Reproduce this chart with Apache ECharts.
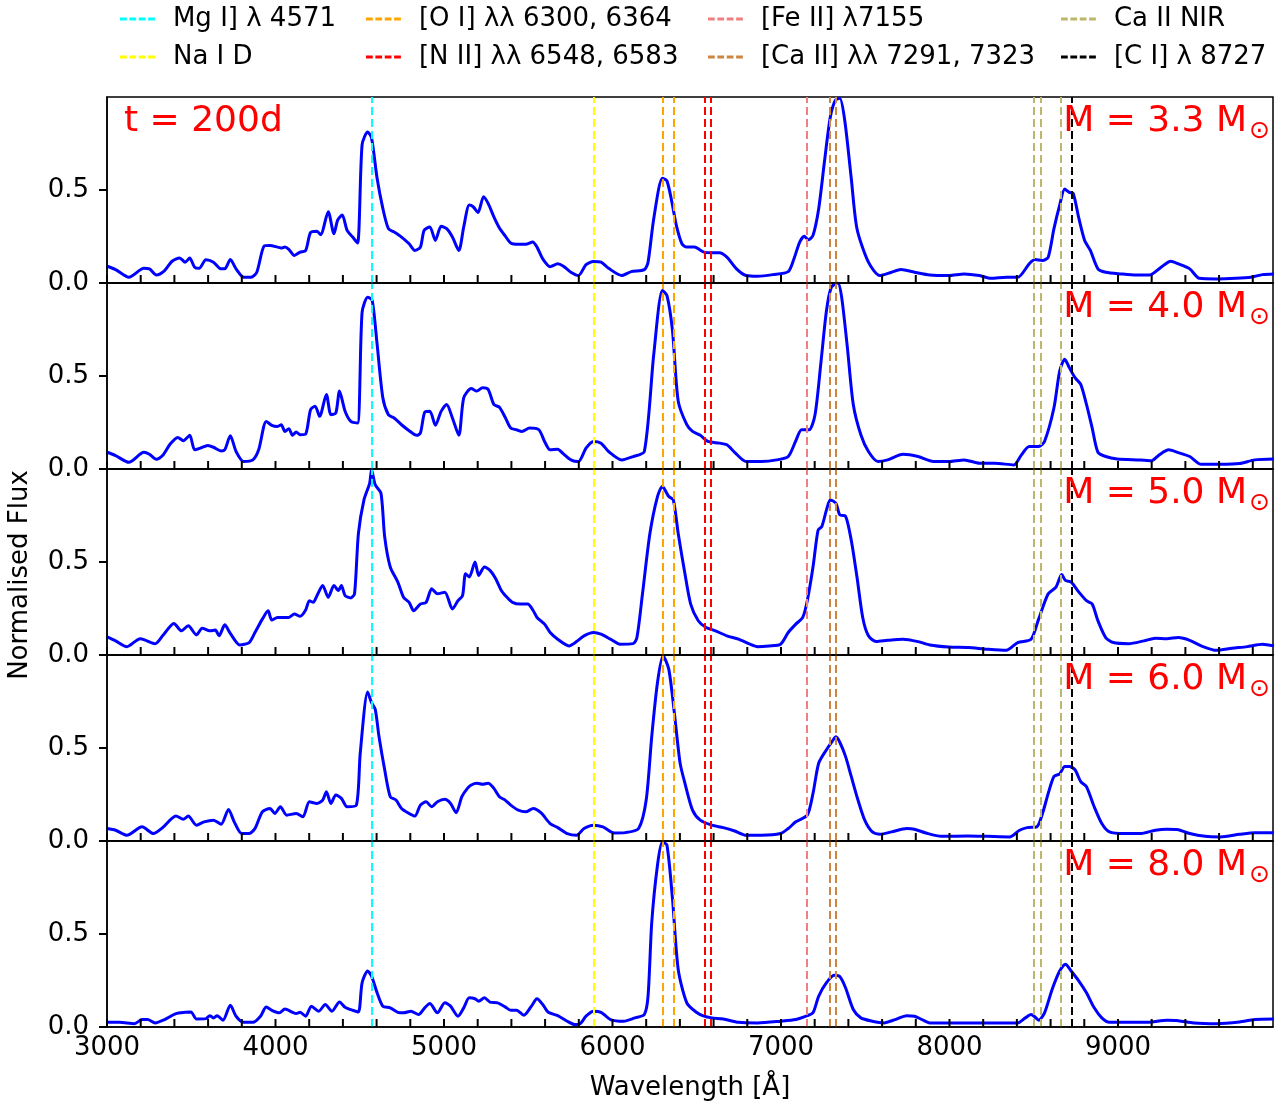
<!DOCTYPE html>
<html><head><meta charset="utf-8">
<script src="https://cdn.jsdelivr.net/npm/echarts@6/dist/echarts.min.js"></script>
<style>html,body{margin:0;padding:0;background:#fff}#c{width:1288px;height:1106px}</style>
</head><body><div id="c"></div>
<script>
// ---------------- DATA ----------------
const epochLabel = 't = 200d';
const massLabels = ['3.3', '4.0', '5.0', '6.0', '8.0'];
const xLabelValues = [3000, 4000, 5000, 6000, 7000, 8000, 9000];
const xTickValues = [3000,3200,3400,3600,3800,4000,4200,4400,4600,4800,5000,5200,5400,5600,5800,6000,6200,6400,6600,6800,7000,7200,7400,7600,7800,8000,8200,8400,8600,8800,9000,9200,9400,9600,9800];
const yLabelValues = [0, 0.5];

const spec_m33 = [[3000,.090],[3051,.072],[3130,.031],[3219,.079],[3252,.076],[3293,.043],[3342,.067],[3386,.117],[3431,.135],[3464,.112],[3491,.134],[3520,.085],[3547,.079],[3587,.125],[3632,.112],[3677,.076],[3699,.076],[3732,.126],[3766,.076],[3811,.031],[3855,.031],[3889,.058],[3933,.199],[3967,.202],[4012,.193],[4034,.188],[4056,.193],[4079,.181],[4112,.148],[4146,.166],[4179,.175],[4208,.271],[4246,.278],[4268,.260],[4313,.383],[4347,.265],[4369,.338],[4396,.365],[4425,.283],[4458,.247],[4487,.215],[4514,.744],[4547,.812],[4570,.780],[4603,.563],[4637,.401],[4670,.292],[4704,.274],[4748,.247],[4793,.211],[4827,.175],[4860,.193],[4882,.283],[4916,.301],[4949,.229],[4983,.305],[5016,.292],[5050,.247],[5088,.175],[5117,.301],[5150,.419],[5173,.410],[5202,.379],[5235,.464],[5262,.428],[5296,.356],[5329,.296],[5363,.253],[5396,.215],[5441,.208],[5485,.208],[5526,.220],[5552,.193],[5586,.130],[5630,.088],[5675,.103],[5709,.090],[5753,.058],[5798,.040],[5843,.099],[5887,.116],[5932,.112],[5977,.079],[6055,.040],[6111,.061],[6189,.072],[6211,.112],[6245,.347],[6296,.563],[6323,.549],[6352,.437],[6379,.310],[6412,.211],[6441,.193],[6486,.193],[6543,.166],[6589,.162],[6634,.162],[6679,.139],[6736,.076],[6793,.040],[6861,.036],[6952,.045],[7043,.061],[7077,.130],[7111,.220],[7138,.251],[7163,.233],[7190,.256],[7224,.401],[7258,.653],[7292,.888],[7322,.982],[7349,.993],[7379,.870],[7417,.563],[7451,.292],[7519,.112],[7587,.040],[7656,.058],[7712,.072],[7792,.058],[7883,.043],[7996,.040],[8087,.049],[8178,.040],[8246,.025],[8337,.031],[8405,.031],[8473,.103],[8507,.126],[8552,.121],[8586,.139],[8620,.292],[8654,.419],[8684,.505],[8711,.487],[8734,.482],[8768,.347],[8802,.229],[8836,.175],[8881,.076],[8927,.058],[9018,.049],[9108,.043],[9188,.043],[9256,.085],[9313,.117],[9358,.103],[9426,.076],[9483,.025],[9585,.022],[9698,.025],[9789,.031],[9857,.045],[9926,.049]];

const spec_m40 = [[3000,.090],[3051,.072],[3130,.036],[3219,.090],[3252,.079],[3293,.052],[3330,.072],[3375,.134],[3420,.170],[3453,.152],[3491,.181],[3520,.103],[3554,.112],[3598,.126],[3632,.117],[3677,.097],[3699,.103],[3732,.179],[3766,.094],[3811,.040],[3866,.049],[3900,.103],[3945,.256],[3978,.235],[4012,.229],[4034,.238],[4056,.202],[4079,.217],[4101,.181],[4123,.199],[4146,.184],[4179,.188],[4208,.319],[4235,.338],[4262,.283],[4302,.401],[4329,.292],[4358,.301],[4380,.419],[4413,.310],[4447,.256],[4487,.247],[4514,.843],[4547,.924],[4574,.906],[4603,.671],[4637,.383],[4670,.292],[4704,.274],[4748,.238],[4793,.206],[4838,.181],[4860,.193],[4887,.307],[4916,.310],[4949,.235],[4983,.310],[5016,.347],[5050,.274],[5088,.181],[5117,.383],[5162,.433],[5195,.419],[5229,.437],[5262,.428],[5296,.347],[5329,.332],[5363,.278],[5396,.220],[5430,.211],[5463,.202],[5508,.220],[5563,.211],[5597,.148],[5630,.103],[5675,.106],[5709,.081],[5753,.049],[5798,.040],[5843,.112],[5887,.148],[5932,.139],[5977,.094],[6055,.049],[6122,.067],[6189,.094],[6245,.617],[6296,.960],[6323,.933],[6356,.744],[6390,.365],[6441,.238],[6475,.202],[6521,.181],[6566,.148],[6634,.139],[6679,.130],[6725,.090],[6793,.040],[6884,.040],[6975,.049],[7043,.067],[7088,.152],[7122,.211],[7167,.211],[7202,.292],[7236,.563],[7270,.852],[7299,.978],[7338,1.0],[7360,.924],[7394,.653],[7429,.347],[7474,.184],[7519,.094],[7576,.040],[7633,.049],[7724,.079],[7814,.067],[7905,.040],[7996,.040],[8087,.049],[8178,.031],[8268,.031],[8382,.022],[8427,.076],[8473,.121],[8529,.121],[8564,.148],[8620,.329],[8654,.527],[8684,.590],[8711,.545],[8745,.491],[8779,.455],[8813,.347],[8847,.220],[8881,.090],[8927,.067],[8995,.054],[9131,.049],[9199,.045],[9245,.076],[9301,.103],[9358,.088],[9426,.067],[9494,.025],[9608,.025],[9721,.029],[9812,.049],[9926,.054]];

const spec_m50 = [[3000,.097],[3051,.076],[3118,.045],[3197,.088],[3230,.079],[3286,.061],[3330,.103],[3397,.170],[3442,.130],[3482,.157],[3531,.108],[3565,.144],[3610,.130],[3643,.134],[3665,.103],[3699,.162],[3732,.116],[3788,.054],[3844,.067],[3878,.121],[3922,.193],[3956,.238],[3978,.188],[4012,.202],[4079,.202],[4112,.220],[4146,.208],[4179,.242],[4201,.292],[4224,.283],[4246,.319],[4280,.374],[4313,.310],[4347,.374],[4373,.347],[4391,.374],[4413,.319],[4447,.307],[4469,.329],[4492,.653],[4525,.834],[4559,.924],[4570,.996],[4592,.915],[4626,.870],[4648,.635],[4681,.473],[4726,.392],[4760,.310],[4793,.283],[4820,.238],[4860,.274],[4894,.283],[4927,.356],[4961,.329],[5005,.338],[5050,.247],[5083,.292],[5110,.319],[5128,.437],[5150,.419],[5184,.500],[5206,.428],[5240,.473],[5273,.455],[5307,.410],[5340,.347],[5374,.310],[5407,.283],[5452,.274],[5497,.274],[5530,.238],[5552,.202],[5597,.166],[5630,.121],[5675,.085],[5742,.049],[5787,.072],[5831,.103],[5887,.121],[5932,.112],[5988,.085],[6044,.058],[6122,.061],[6145,.094],[6178,.329],[6222,.653],[6267,.852],[6296,.906],[6334,.852],[6361,.834],[6390,.653],[6430,.437],[6464,.274],[6509,.184],[6555,.148],[6611,.130],[6679,.103],[6748,.085],[6816,.058],[6861,.045],[6929,.049],[6997,.058],[7043,.121],[7088,.166],[7129,.202],[7156,.292],[7190,.473],[7220,.671],[7242,.690],[7270,.780],[7292,.834],[7326,.816],[7349,.753],[7383,.747],[7417,.617],[7451,.419],[7485,.202],[7519,.103],[7565,.072],[7633,.079],[7724,.085],[7814,.072],[7883,.054],[7996,.043],[8110,.040],[8223,.031],[8337,.025],[8405,.067],[8484,.085],[8529,.193],[8586,.329],[8632,.365],[8666,.433],[8688,.401],[8722,.392],[8768,.338],[8813,.292],[8847,.274],[8881,.184],[8927,.094],[8972,.067],[9063,.061],[9154,.076],[9222,.090],[9290,.088],[9358,.094],[9426,.079],[9494,.049],[9585,.025],[9676,.036],[9767,.045],[9857,.058],[9926,.049]];

const spec_m60 = [[3000,.067],[3051,.058],[3118,.031],[3208,.076],[3275,.040],[3330,.072],[3409,.135],[3453,.117],[3482,.134],[3531,.085],[3576,.103],[3632,.112],[3677,.090],[3721,.170],[3755,.103],[3799,.040],[3844,.040],[3878,.067],[3922,.157],[3967,.175],[3996,.148],[4029,.184],[4067,.139],[4123,.148],[4163,.130],[4201,.211],[4246,.202],[4280,.220],[4302,.265],[4329,.202],[4358,.247],[4391,.229],[4425,.184],[4480,.193],[4503,.473],[4547,.801],[4570,.744],[4592,.708],[4614,.563],[4648,.383],[4681,.238],[4715,.220],[4748,.175],[4793,.148],[4827,.134],[4860,.193],[4894,.211],[4927,.184],[4961,.211],[5005,.224],[5039,.202],[5072,.152],[5106,.238],[5139,.283],[5162,.301],[5195,.310],[5229,.305],[5262,.310],[5296,.283],[5329,.238],[5363,.220],[5396,.193],[5441,.166],[5485,.157],[5530,.175],[5575,.152],[5630,.094],[5675,.072],[5731,.040],[5787,.031],[5831,.067],[5887,.085],[5943,.076],[6010,.043],[6077,.045],[6155,.067],[6200,.220],[6233,.563],[6267,.852],[6300,.996],[6334,.924],[6367,.690],[6401,.420],[6430,.310],[6475,.166],[6521,.112],[6589,.085],[6657,.072],[6725,.054],[6793,.031],[6884,.031],[6997,.040],[7043,.067],[7088,.103],[7156,.139],[7190,.256],[7224,.419],[7270,.491],[7304,.536],[7326,.560],[7349,.531],[7383,.455],[7417,.347],[7451,.238],[7497,.112],[7542,.049],[7587,.036],[7656,.049],[7746,.067],[7792,.063],[7860,.043],[7951,.025],[8110,.027],[8223,.025],[8359,.022],[8416,.058],[8461,.072],[8518,.076],[8552,.148],[8586,.256],[8620,.347],[8654,.361],[8684,.401],[8711,.401],[8745,.383],[8779,.319],[8813,.292],[8859,.184],[8904,.094],[8949,.049],[9040,.040],[9131,.040],[9222,.058],[9290,.063],[9358,.061],[9426,.040],[9517,.025],[9608,.022],[9721,.036],[9812,.045],[9926,.045]];

const spec_m80 = [[3000,.025],[3074,.025],[3163,.018],[3208,.040],[3241,.040],[3286,.022],[3342,.040],[3409,.072],[3464,.079],[3498,.081],[3531,.043],[3587,.045],[3610,.061],[3632,.049],[3654,.061],[3688,.036],[3732,.117],[3766,.058],[3811,.025],[3866,.025],[3911,.058],[3945,.108],[3978,.090],[4023,.076],[4056,.097],[4101,.079],[4123,.072],[4146,.079],[4179,.058],[4213,.112],[4257,.085],[4295,.121],[4335,.085],[4380,.135],[4413,.106],[4458,.090],[4492,.081],[4514,.238],[4547,.301],[4570,.274],[4603,.184],[4637,.112],[4681,.103],[4726,.079],[4760,.076],[4804,.085],[4849,.067],[4882,.099],[4916,.126],[4961,.076],[5005,.130],[5039,.112],[5083,.058],[5117,.103],[5150,.157],[5184,.152],[5206,.139],[5240,.157],[5273,.134],[5318,.130],[5363,.108],[5396,.090],[5430,.090],[5474,.063],[5519,.112],[5552,.152],[5586,.121],[5619,.079],[5675,.061],[5731,.031],[5776,.013],[5809,.018],[5843,.058],[5887,.085],[5932,.079],[5988,.040],[6066,.031],[6133,.049],[6189,.067],[6211,.166],[6233,.563],[6267,.870],[6296,.996],[6323,.978],[6356,.690],[6390,.310],[6441,.130],[6498,.079],[6543,.058],[6589,.049],[6657,.043],[6748,.025],[6861,.022],[6997,.031],[7088,.040],[7156,.061],[7190,.076],[7224,.166],[7270,.238],[7315,.278],[7349,.271],[7383,.211],[7429,.094],[7474,.049],[7542,.031],[7610,.022],[7678,.040],[7746,.061],[7792,.058],[7837,.040],[7883,.022],[7996,.022],[8223,.022],[8405,.022],[8450,.049],[8484,.067],[8507,.054],[8529,.036],[8564,.076],[8609,.202],[8654,.301],[8688,.338],[8722,.301],[8768,.247],[8813,.184],[8859,.103],[8904,.049],[8949,.025],[9086,.025],[9176,.025],[9290,.036],[9358,.034],[9449,.022],[9585,.018],[9721,.027],[9812,.040],[9926,.043]];

const spectra = [spec_m33, spec_m40, spec_m50, spec_m60, spec_m80];

const lineNames = ['Mg I] λ 4571', 'Na I D', '[O I] λλ 6300, 6364', '[N II] λλ 6548, 6583',
                   '[Fe II] λ7155', '[Ca II] λλ 7291, 7323', 'Ca II NIR', '[C I] λ 8727'];
const lineWaves = [[4571], [5890], [6300, 6364], [6548, 6583], [7155], [7291, 7323], [8498, 8542, 8662], [8727]];
const lineColors = ['#00ffff', '#ffff00', '#ffa500', '#ff0000', '#f08080', '#cd853f', '#bdb76b', '#000000'];

// ---------------- LAYOUT / STYLE ----------------
const FONT = 'DejaVu Sans';
const FS = 26;
const PANEL_TOP = 97, PANEL_H = 186, LEFT = 107, RIGHT = 15;
const XMIN = 3000, XMAX = 9920;
const TICK_LEN = 8;

const grids = [], xAxes = [], yAxes = [], series = [], graphics = [];
for (let i = 0; i < 5; i++) {
  grids.push({left: LEFT, right: RIGHT, top: PANEL_TOP + PANEL_H * i, height: PANEL_H,
    show: true, borderColor: '#000', borderWidth: 1.5, backgroundColor: 'transparent'});
  const isBottom = i === 4;
  xAxes.push({type: 'value', gridIndex: i, min: XMIN, max: XMAX, interval: 200, z: 10,
    axisLine: {show: true, onZero: false, lineStyle: {color: '#000', width: 1.5}},
    axisTick: {show: false},
    axisLabel: {show: isBottom, fontSize: FS, fontFamily: FONT, color: '#000', margin: 8,
      showMaxLabel: false,
      formatter: v => (xLabelValues.indexOf(v) >= 0 ? String(v) : '')},
    splitLine: {show: false},
    name: isBottom ? 'Wavelength [Å]' : '', nameLocation: 'middle', nameGap: 48,
    nameTextStyle: {fontSize: FS, fontFamily: FONT, color: '#000'}});
  yAxes.push({type: 'value', gridIndex: i, min: 0, max: 1, interval: 0.5, z: 10,
    axisLine: {show: true, lineStyle: {color: '#000', width: 1.5}},
    axisTick: {show: false},
    axisLabel: {show: true, showMaxLabel: false,
      formatter: v => (yLabelValues.indexOf(v) >= 0 ? v.toFixed(1) : ''),
      fontSize: FS, fontFamily: FONT, color: '#000', margin: 18},
    splitLine: {show: false}});
  series.push({type: 'line', name: 'spectrum' + i, xAxisIndex: i, yAxisIndex: i,
    data: spectra[i], showSymbol: false, symbol: 'none', smooth: 0.25, silent: true, z: 2,
    lineStyle: {color: '#0000ff', width: 3}, itemStyle: {color: '#0000ff'}});
  // tick marks along the bottom (inward) and left (outward) edges of each panel
  series.push({type: 'custom', name: 'xticks' + i, xAxisIndex: i, yAxisIndex: i, silent: true, z: 6,
    clip: false, data: xTickValues.map(v => [v, 0]),
    renderItem: (params, api) => {
      const p = api.coord([api.value(0), api.value(1)]);
      return {type: 'line', shape: {x1: p[0], y1: p[1], x2: p[0], y2: p[1] - TICK_LEN},
        style: {stroke: '#000000', lineWidth: 2, fill: null}};
    }});
  series.push({type: 'custom', name: 'yticks' + i, xAxisIndex: i, yAxisIndex: i, silent: true, z: 6,
    clip: false, data: yLabelValues.map(v => [XMIN, v]),
    renderItem: (params, api) => {
      const p = api.coord([api.value(0), api.value(1)]);
      return {type: 'line', shape: {x1: p[0], y1: p[1], x2: p[0] - TICK_LEN, y2: p[1]},
        style: {stroke: '#000000', lineWidth: 2, fill: null}};
    }});
  for (let g = 0; g < lineNames.length; g++) {
    series.push({type: 'line', name: lineNames[g], xAxisIndex: i, yAxisIndex: i, data: [],
      symbol: 'none', z: 3, itemStyle: {color: lineColors[g], borderWidth: 0},
      lineStyle: {color: lineColors[g], width: 2, type: [8, 4]},
      markLine: {silent: true, symbol: ['none', 'none'], label: {show: false}, animation: false,
        lineStyle: {color: lineColors[g], width: 2, type: [8, 4]},
        emphasis: {disabled: true},
        data: lineWaves[g].map(w => ({xAxis: w}))}});
  }
  const cy = PANEL_TOP + PANEL_H * i + 25;
  graphics.push({type: 'text', z: 100, style: {x: 1247, y: cy, text: 'M = ' + massLabels[i] + ' M',
    fill: '#ff0000', fontSize: 36, fontFamily: FONT, align: 'right', verticalAlign: 'middle'}});
  graphics.push({type: 'text', z: 100, style: {x: 1249, y: cy + 9, text: '⊙',
    fill: '#ff0000', fontSize: 25, fontFamily: FONT, align: 'left', verticalAlign: 'middle'}});
}
graphics.push({type: 'text', z: 100, style: {x: 124, y: PANEL_TOP + 25, text: epochLabel,
  fill: '#ff0000', fontSize: 36, fontFamily: FONT, align: 'left', verticalAlign: 'middle'}});
graphics.push({type: 'text', z: 100, x: 20, y: 575, rotation: Math.PI / 2,
  style: {x: 0, y: 0, text: 'Normalised Flux', fill: '#000', fontSize: FS, fontFamily: FONT,
    align: 'center', verticalAlign: 'middle'}});

const dashIcon = 'path://M0,0h9v4h-9zM12.5,0h9v4h-9zM25,0h9v4h-9zM37.5,0h9v4h-9z';
const legendLefts = [115, 361, 703, 1056];
const legends = legendLefts.map((lx, c) => ({
  orient: 'vertical', left: lx, top: 0, itemWidth: 49, itemHeight: 3, itemGap: 10,
  icon: dashIcon, selectedMode: false, itemStyle: {borderWidth: 0},
  textStyle: {fontSize: FS, fontFamily: FONT, color: '#000', lineHeight: 28, padding: [0, 0, 0, 6]},
  data: [lineNames[c * 2], lineNames[c * 2 + 1]]
}));

const chart = echarts.init(document.getElementById('c'), null, {renderer: 'canvas'});
chart.setOption({
  animation: false,
  backgroundColor: '#ffffff',
  textStyle: {fontFamily: FONT},
  legend: legends,
  grid: grids, xAxis: xAxes, yAxis: yAxes, series: series, graphic: graphics
});
</script></body></html>
